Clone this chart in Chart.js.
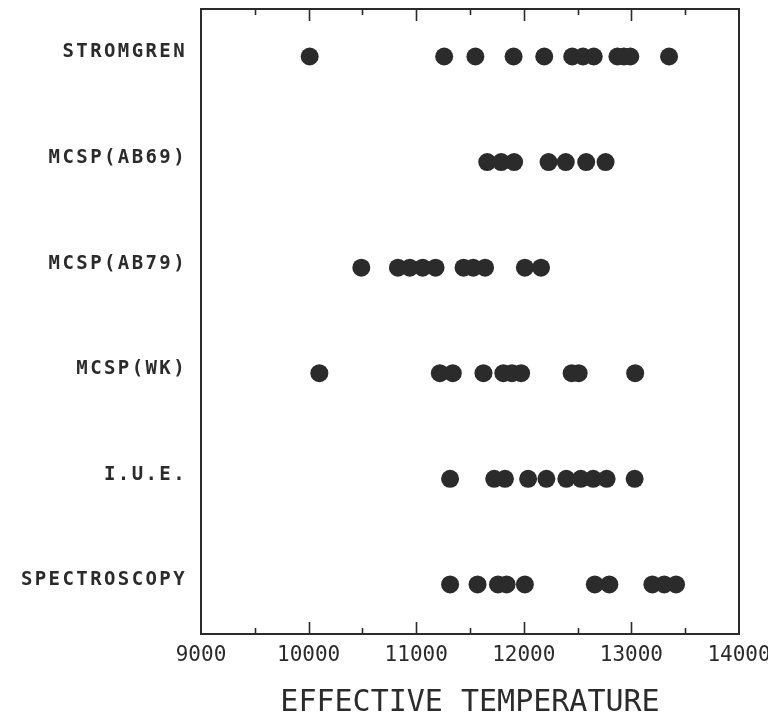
<!DOCTYPE html>
<html>
<head>
<meta charset="utf-8">
<title>Effective temperature by method</title>
<script src="https://cdn.jsdelivr.net/npm/chart.js@4/dist/chart.umd.min.js"></script>
<style>
  html, body { margin: 0; padding: 0; background: #ffffff; }
  #wrap { width: 768px; height: 723px; }
</style>
</head>
<body>
<div id="wrap"><canvas id="c" width="768" height="723"></canvas></div>
<script>
// Methods, listed top to bottom
const methods = ['STROMGREN', 'MCSP(AB69)', 'MCSP(AB79)', 'MCSP(WK)', 'I.U.E.', 'SPECTROSCOPY'];

// Effective temperatures (K) found by each method
const stromgren    = [10010, 11260, 11550, 11905, 12190, 12450, 12550, 12650, 12870, 12930, 12990, 13350];
const mcspAB69     = [11660, 11790, 11910, 12230, 12390, 12580, 12760];
const mcspAB79     = [10490, 10830, 10940, 11060, 11180, 11440, 11530, 11640, 12010, 12160];
const mcspWK       = [10100, 11220, 11340, 11625, 11810, 11890, 11975, 12445, 12510, 13035];
const iue          = [11315, 11725, 11825, 12040, 12210, 12395, 12530, 12645, 12770, 13030];
const spectroscopy = [11315, 11570, 11760, 11840, 12010, 12660, 12795, 13195, 13305, 13415];

// X axis range and tick spacing
const tempMin = 9000;
const tempMax = 14000;
const tempStep = 500;

const rows = [stromgren, mcspAB69, mcspAB79, mcspWK, iue, spectroscopy];
const points = [];
rows.forEach((temps, i) => temps.forEach(t => points.push({ x: t, y: i })));

const ink = '#2b2b2b';
const plotFont = "'DejaVu Sans Mono', monospace";

// keep the plot box fixed: no extra room reserved for overhanging labels
function noOverhang(s) {
  s.paddingTop = 0;
  s.paddingBottom = 0;
  s.paddingLeft = 0;
  s.paddingRight = 0;
}

// Closed frame with inward tick marks on the top and bottom edges
const frameTicks = {
  id: 'frameTicks',
  beforeDatasetsDraw(chart) {
    const { ctx, chartArea: a, scales: { x } } = chart;
    ctx.save();
    ctx.strokeStyle = ink;
    ctx.lineWidth = 2;
    ctx.strokeRect(a.left, a.top, a.right - a.left, a.bottom - a.top);
    ctx.lineWidth = 1.6;
    x.ticks.forEach(t => {
      if (t.value <= tempMin || t.value >= tempMax) return;
      const px = Math.round(x.getPixelForValue(t.value)) + 0.5;
      const len = t.value % 1000 === 0 ? 12 : 6;
      ctx.beginPath();
      ctx.moveTo(px, a.bottom);
      ctx.lineTo(px, a.bottom - len);
      ctx.moveTo(px, a.top);
      ctx.lineTo(px, a.top + len);
      ctx.stroke();
    });
    ctx.restore();
  },
  // the method names are drawn after the datasets (ticks.z = 1) with wider letter spacing
  afterDatasetsDraw(chart) {
    chart.ctx.letterSpacing = '2.4px';
  },
  afterDraw(chart) {
    chart.ctx.letterSpacing = '0px';
  }
};

new Chart(document.getElementById('c'), {
  type: 'scatter',
  data: {
    datasets: [{
      data: points,
      backgroundColor: ink,
      borderWidth: 0,
      pointRadius: 9,
      pointHoverRadius: 9,
      pointStyle: 'circle'
    }]
  },
  options: {
    responsive: false,
    animation: false,
    events: [],
    layout: { padding: { top: 5, right: 29, left: 0, bottom: 0 } },
    plugins: { legend: { display: false }, tooltip: { enabled: false } },
    scales: {
      x: {
        type: 'linear',
        position: 'bottom',
        min: tempMin,
        max: tempMax,
        afterFit: s => { s.height = 89; noOverhang(s); },
        grid: { display: false, drawTicks: false },
        border: { display: false },
        ticks: {
          stepSize: tempStep,
          autoSkip: false,
          maxRotation: 0,
          padding: 9,
          color: ink,
          font: { family: plotFont, size: 21 },
          callback: v => (v % 1000 === 0 ? String(v) : '')
        },
        title: {
          display: true,
          text: 'EFFECTIVE TEMPERATURE',
          color: ink,
          font: { family: plotFont, size: 30 },
          padding: { top: 0, bottom: 2 }
        }
      },
      y: {
        type: 'linear',
        reverse: true,
        min: -0.45,
        max: 5.47,
        afterFit: s => { s.width = 201; noOverhang(s); },
        afterBuildTicks: s => { s.ticks = methods.map((m, i) => ({ value: i })); },
        grid: { display: false, drawTicks: false },
        border: { display: false },
        ticks: {
          z: 1,
          padding: 14,
          labelOffset: -4,
          color: ink,
          font: { family: plotFont, size: 19, weight: 'bold' },
          callback: v => methods[v]
        }
      }
    }
  },
  plugins: [frameTicks]
});
</script>
</body>
</html>
